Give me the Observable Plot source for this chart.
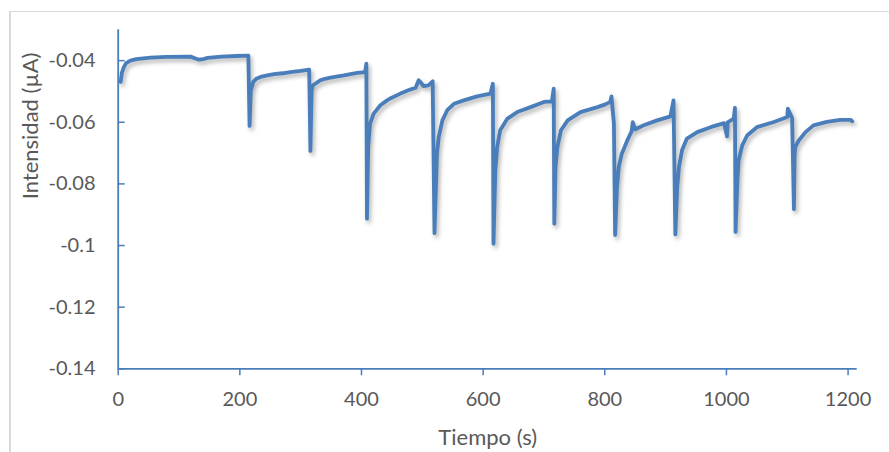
<!DOCTYPE html>
<html><head><meta charset="utf-8">
<script src="https://cdn.jsdelivr.net/npm/d3@7"></script>
<script src="https://cdn.jsdelivr.net/npm/@observablehq/plot@0.6"></script>
<style>
html,body{margin:0;padding:0;background:#fff;overflow:hidden;width:889px;height:452px;}
#wrap{position:relative;width:889px;height:452px;overflow:hidden;}
#frame{position:absolute;left:9px;top:11px;width:2000px;height:2000px;border-left:2px solid #d9d9d9;border-top:1.5px solid #d9d9d9;}
#chart{position:absolute;left:0;top:0;}
</style></head><body>
<div id="wrap"><div id="frame"></div><div id="chart"></div></div>
<script>
// Time (s)
const tiempo = [
  4, 6, 9, 13, 20, 30, 53, 80, 119, 127, 133, 140, 147, 170, 195, 214,
  216,
  218, 222, 227, 234, 245, 256, 270, 283, 300, 314,
  316,
  318, 320, 324, 332, 340, 349, 371, 393, 406, 408,
  409,
  411, 414, 420, 431, 442, 448, 464, 480, 489, 494, 497, 502, 510, 517,
  520,
  524, 527, 533, 541, 552, 568, 590, 612, 616,
  617,
  620, 623, 628, 640, 656, 678, 700, 713, 716,
  717,
  719, 722, 728, 739, 760, 788, 801, 809, 811, 813, 815,
  817,
  820, 823, 828, 837, 844, 846, 850, 864, 886, 908, 913,
  916,
  919, 922, 927, 935, 952, 974, 996, 1001, 1002, 1012, 1014,
  1015,
  1018, 1020, 1026, 1034, 1050, 1078, 1100, 1101, 1108,
  1111,
  1112, 1113, 1119, 1130, 1143, 1165, 1187, 1204, 1207
];
// Current (µA)
const intensidad = [
  -0.0469, -0.0440, -0.0422, -0.0408, -0.0400, -0.0395, -0.0390, -0.0388, -0.0387, -0.0393, -0.0397, -0.0395, -0.0391, -0.0387, -0.0385, -0.0384,
  -0.0612,
  -0.0496, -0.0469, -0.0459, -0.0453, -0.0448, -0.0444, -0.0441, -0.0437, -0.0433, -0.0429,
  -0.0693,
  -0.0496, -0.0480, -0.0475, -0.0464, -0.0459, -0.0455, -0.0448, -0.0440, -0.0437, -0.0410,
  -0.0913,
  -0.0680, -0.0605, -0.0572, -0.0545, -0.0529, -0.0522, -0.0507, -0.0494, -0.0488, -0.0464, -0.0470, -0.0483, -0.0480, -0.0467,
  -0.0960,
  -0.0702, -0.0648, -0.0594, -0.0561, -0.0540, -0.0529, -0.0516, -0.0507, -0.0475,
  -0.0994,
  -0.0756, -0.0681, -0.0626, -0.0588, -0.0567, -0.0551, -0.0534, -0.0532, -0.0491,
  -0.0929,
  -0.0745, -0.0681, -0.0626, -0.0594, -0.0567, -0.0551, -0.0542, -0.0534, -0.0516, -0.0561, -0.0604,
  -0.0966,
  -0.0810, -0.0745, -0.0702, -0.0659, -0.0630, -0.0600, -0.0623, -0.0610, -0.0594, -0.0581, -0.0529,
  -0.0964,
  -0.0810, -0.0745, -0.0691, -0.0653, -0.0632, -0.0616, -0.0603, -0.0646, -0.0600, -0.0588, -0.0553,
  -0.0956,
  -0.0789, -0.0724, -0.0675, -0.0643, -0.0616, -0.0599, -0.0583, -0.0556, -0.0586,
  -0.0882,
  -0.0713, -0.0681, -0.0659, -0.0632, -0.0610, -0.0599, -0.0592, -0.0592, -0.0597
];
const xTicks = [0, 200, 400, 600, 800, 1000, 1200];
const xTickLabels = ["0", "200", "400", "600", "800", "1000", "1200"];
const yTicks = [-0.04, -0.06, -0.08, -0.1, -0.12, -0.14];
const yTickLabels = ["-0.04", "-0.06", "-0.08", "-0.1", "-0.12", "-0.14"];
const xTitle = "Tiempo (s)";
const yTitle = "Intensidad (µA)";

const blue = "#4a7ebb";
const grey = "#595959";
const data = tiempo.map((t, i) => ({t, v: intensidad[i]}));

const chart = Plot.plot({
  width: 889,
  height: 452,
  marginLeft: 117.7,
  marginRight: 32.3,
  marginTop: 29.3,
  marginBottom: 83.7,
  style: {fontFamily: "Lato, sans-serif", fontSize: "20px", color: grey, background: "transparent", overflow: "visible"},
  x: {domain: [0, 1215]},
  y: {domain: [-0.14, -0.03]},
  marks: [
    Plot.line(data, {x: "t", y: "v", stroke: blue, strokeWidth: 3.8, strokeLinejoin: "round", curve: "linear"}),
    Plot.ruleX([0], {stroke: blue, strokeWidth: 1.8}),
    Plot.ruleY([-0.14], {stroke: blue, strokeWidth: 1.8}),
    Plot.axisX(xTicks, {tickSize: 7, tickPadding: 16, stroke: blue, strokeWidth: 1.5, fill: grey,
      tickFormat: d => xTickLabels[xTicks.indexOf(d)], label: null}),
    Plot.axisY(yTicks, {tickSize: -7, tickPadding: 29.7, stroke: blue, strokeWidth: 1.5, fill: grey,
      tickFormat: d => yTickLabels[yTicks.indexOf(d)], label: null}),
    Plot.text([xTitle], {frameAnchor: "bottom", dy: 69, fontSize: 22, fill: grey, lineAnchor: "middle"}),
    Plot.text([yTitle], {frameAnchor: "left", dx: -87.3, rotate: -90, fontSize: 22, fill: grey, lineAnchor: "middle"})
  ]
});
chart.querySelectorAll('g[aria-label="line"] path').forEach(p => {
  p.style.filter = "drop-shadow(2px 3px 2px rgba(0,0,0,0.3))";
});
document.getElementById("chart").appendChild(chart);
</script>
</body></html>
